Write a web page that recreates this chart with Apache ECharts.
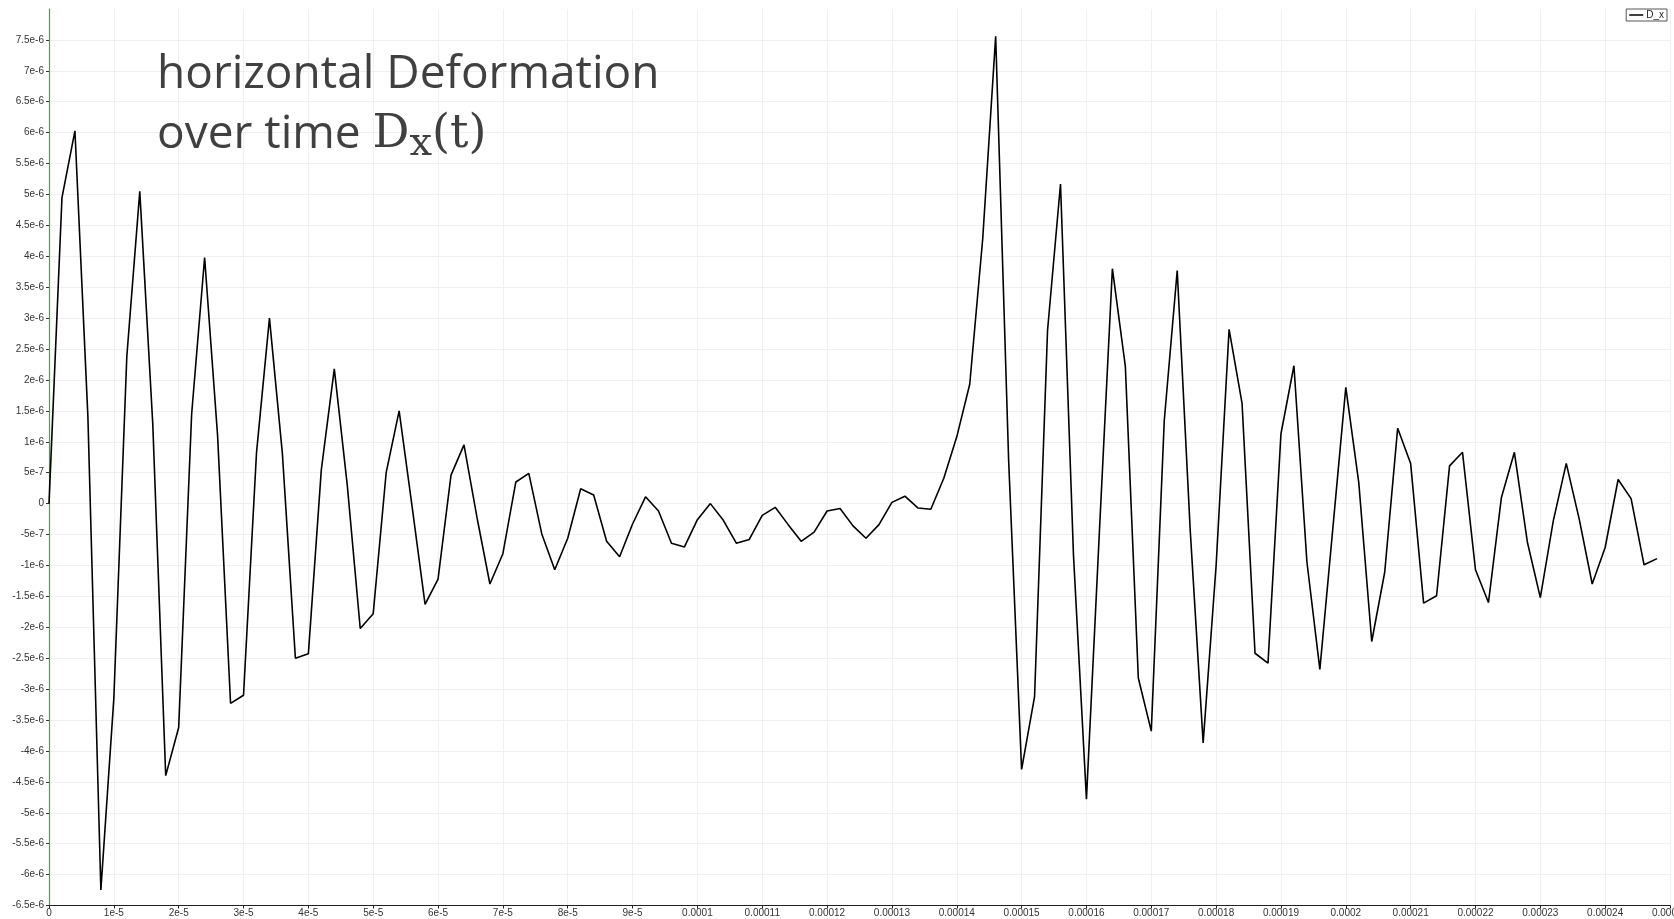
<!DOCTYPE html>
<html>
<head>
<meta charset="utf-8">
<title>D_x</title>
<script src="https://cdn.jsdelivr.net/npm/echarts@6/dist/echarts.min.js"></script>
<style>
  html, body { margin: 0; padding: 0; background: #fff; }
  #main { width: 1674px; height: 919px; }
</style>
</head>
<body>
<div id="main"></div>
<script>
// time in microseconds (1e-6 s)
var timeUs = [
  0, 2, 4, 6, 8, 10, 12, 14, 16, 18, 20, 22, 24, 26, 28, 30, 32, 34, 36, 38,
  40, 42, 44, 46, 48, 50, 52, 54, 56, 58, 60, 62, 64, 66, 68, 70, 72, 74, 76, 78,
  80, 82, 84, 86, 88, 90, 92, 94, 96, 98, 100, 102, 104, 106, 108, 110, 112, 114, 116, 118,
  120, 122, 124, 126, 128, 130, 132, 134, 136, 138, 140, 142, 144, 146, 148, 150, 152, 154, 156, 158,
  160, 162, 164, 166, 168, 170, 172, 174, 176, 178, 180, 182, 184, 186, 188, 190, 192, 194, 196, 198,
  200, 202, 204, 206, 208, 210, 212, 214, 216, 218, 220, 222, 224, 226, 228, 230, 232, 234, 236, 238,
  240, 242, 244, 246, 248
]
// D_x in units of 1e-6
var dxMicro = [
  0, 4.95, 6.03, 1.4, -6.25, -3.15, 2.38, 5.05, 1.3, -4.4,
  -3.62, 1.45, 3.98, 1.1, -3.23, -3.1, 0.82, 3.0, 0.8, -2.5,
  -2.43, 0.55, 2.18, 0.3, -2.02, -1.78, 0.5, 1.5, -0.05, -1.63,
  -1.22, 0.46, 0.95, -0.22, -1.3, -0.81, 0.35, 0.49, -0.49, -1.07,
  -0.56, 0.24, 0.14, -0.61, -0.86, -0.33, 0.11, -0.12, -0.64, -0.7,
  -0.26, 0.0, -0.27, -0.64, -0.58, -0.19, -0.06, -0.34, -0.61, -0.46,
  -0.12, -0.08, -0.36, -0.56, -0.34, 0.02, 0.12, -0.07, -0.09, 0.41,
  1.08, 1.93, 4.28, 7.56, 0.7, -4.3, -3.12, 2.8, 5.17, -0.83,
  -4.78, -0.45, 3.8, 2.22, -2.82, -3.68, 1.34, 3.77, -0.42, -3.87,
  -1.0, 2.82, 1.62, -2.42, -2.58, 1.13, 2.23, -0.94, -2.68, -0.4,
  1.88, 0.34, -2.23, -1.11, 1.22, 0.65, -1.61, -1.49, 0.61, 0.83,
  -1.07, -1.6, 0.1, 0.83, -0.62, -1.52, -0.28, 0.65, -0.25, -1.3,
  -0.71, 0.39, 0.08, -0.99, -0.89
]
var seriesName = 'D_x'

var points = timeUs.map(function (t, i) { return [t, dxMicro[i]] })

function fmtX (v) {
  var x = Number((v * 1e-6).toPrecision(6))
  if (x === 0) return '0'
  if (x < 1e-4) return x.toExponential()
  return String(x)
}
function fmtY (v) {
  var y = Number((v * 1e-6).toPrecision(6))
  if (y === 0) return '0'
  return y.toExponential()
}

var chart = echarts.init(document.getElementById('main'))
var option = {
  animation: false,
  backgroundColor: '#fff',
  title: {
    left: 157,
    top: 45,
    padding: 0,
    text: '{a|horizontal Deformation}\n{a|over time }{d|D}{s|x}{d|(t)}',
    textStyle: {
      fontWeight: 'normal',
      rich: {
        a: { fontFamily: 'Open Sans', fontWeight: 'normal', fontSize: 46, color: '#404040', lineHeight: 60 },
        d: { fontFamily: 'DejaVu Serif', fontWeight: 'normal', fontSize: 46, color: '#404040', lineHeight: 60 },
        s: { fontFamily: 'DejaVu Serif', fontWeight: 'normal', fontSize: 40, color: '#404040', lineHeight: 42, verticalAlign: 'bottom' }
      }
    }
  },
  legend: {
    right: 7,
    top: 9,
    padding: [1, 3, 1, 3],
    borderColor: '#555',
    borderWidth: 1,
    backgroundColor: '#fff',
    icon: 'rect',
    itemWidth: 14,
    itemHeight: 1.5,
    itemGap: 3,
    textStyle: { fontSize: 10, color: '#222', fontFamily: 'Liberation Sans', padding: [0, 0, 0, -2] },
    data: [seriesName]
  },
  grid: { left: 49, right: 4, top: 9, bottom: 13.5, outerBoundsMode: 'none', containLabel: false },
  xAxis: {
    type: 'value',
    min: 0,
    max: 250,
    interval: 10,
    axisLine: { onZero: false, lineStyle: { color: '#222', width: 1.2 } },
    axisTick: { show: true, length: 3, lineStyle: { color: '#222' } },
    axisLabel: { fontSize: 10, color: '#333', fontFamily: 'Liberation Sans', margin: 3, formatter: fmtX },
    splitLine: { show: true, lineStyle: { color: '#f0f0f0', width: 1 } }
  },
  yAxis: {
    type: 'value',
    min: -6.5,
    max: 8,
    interval: 0.5,
    axisLine: { show: true, onZero: false, lineStyle: { color: '#6d8c5c', width: 1.2 } },
    axisTick: { show: true, length: 3, lineStyle: { color: '#333' } },
    axisLabel: { fontSize: 10, color: '#333', fontFamily: 'Liberation Sans', margin: 5, formatter: fmtY, showMaxLabel: false },
    splitLine: { show: true, showMaxLine: false, lineStyle: { color: '#f0f0f0', width: 1 } }
  },
  series: [
    {
      name: seriesName,
      type: 'line',
      data: points,
      showSymbol: false,
      symbol: 'none',
      color: '#000',
      lineStyle: { color: '#000', width: 1.6 }
    }
  ]
}
chart.setOption(option)
</script>
</body>
</html>
